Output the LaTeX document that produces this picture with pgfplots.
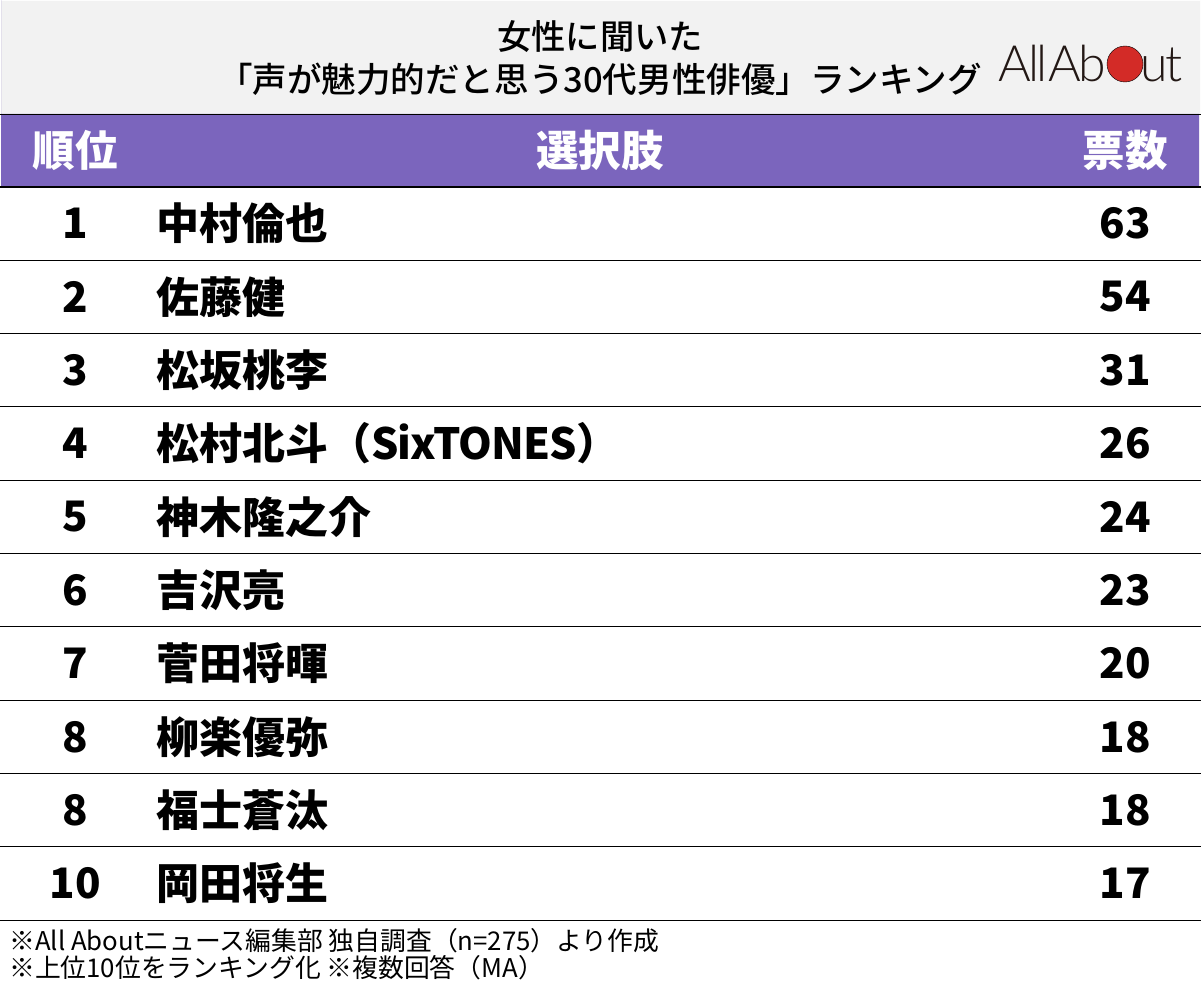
\documentclass[border=0pt]{standalone}
\usepackage{pgfplots}
\pgfplotsset{compat=1.18}
\usepackage{fontspec}
\setmainfont{Noto Sans CJK JP}
\newfontfamily\titlefont{Noto Sans CJK JP Medium}
\newfontfamily\logofont[LetterSpace=-5]{Lato Light}
\newcommand{\sx}{{\addfontfeature{LetterSpace=-2.5}SixTONES}}
\definecolor{hdr}{HTML}{7B65BD}
\definecolor{bandg}{HTML}{F2F2F2}
\definecolor{logored}{HTML}{D32B27}
\definecolor{logok}{HTML}{231815}
\begin{document}
\begin{tikzpicture}
\begin{axis}[
  scale only axis, width=1201pt, height=995pt,
  xmin=0, xmax=1201, ymin=0, ymax=995, y dir=reverse,
  hide axis, clip=true,
]
% page background
\addplot[draw=none, fill=white] coordinates {(0,0) (1201,0) (1201,995) (0,995)} \closedcycle;
% bands
\addplot[draw=none, fill=bandg] coordinates {(1,1) (1200,1) (1200,114) (1,114)} \closedcycle;
\addplot[draw=none, fill=hdr] coordinates {(1,114) (1199,114) (1199,187) (1,187)} \closedcycle;
% rules
\addplot[black, line width=1pt] coordinates {(0,114.5) (1201,114.5)};
\addplot[black, line width=2.2pt] coordinates {(0,187) (1201,187)};
\pgfplotsinvokeforeach{260.5,333.5,480.5,553.5,626.5,700.5,773.5,846.5,920.5}{
  \addplot[black, line width=1pt] coordinates {(0,#1) (1201,#1)};
}
\addplot[black, line width=1.5pt] coordinates {(0,406.5) (1201,406.5)};
% ranks
\addplot[only marks, mark=none, nodes near coords, point meta=explicit symbolic,
  every node near coord/.append style={anchor=center, inner sep=0pt, text=black, font=\fontsize{42}{46}\selectfont\bfseries}]
  table[x=x, y=y, meta=t] {
x y t
75 223 1
75 297 2
75 370 3
75 443 4
75 517 5
75 590 6
75 663 7
75 737 8
75 810 8
75 883 10
};
% names
\addplot[only marks, mark=none, nodes near coords, point meta=explicit symbolic,
  every node near coord/.append style={anchor=west, inner sep=0pt, text=black, font=\fontsize{43}{46}\selectfont\bfseries}]
  table[x=x, y=y, meta=t] {
x y t
156 223 中村倫也
156 297 佐藤健
156 370 松坂桃李
156 443 松村北斗（\sx）
156 517 神木隆之介
156 590 吉沢亮
156 663 菅田将暉
156 737 柳楽優弥
156 810 福士蒼汰
156 883 岡田将生
};
% votes
\addplot[only marks, mark=none, nodes near coords, point meta=explicit symbolic,
  every node near coord/.append style={anchor=center, inner sep=0pt, text=black, font=\fontsize{42}{46}\selectfont\bfseries}]
  table[x=x, y=y, meta=t] {
x y t
1125 223 63
1125 297 54
1125 370 31
1125 443 26
1125 517 24
1125 590 23
1125 663 20
1125 737 18
1125 810 18
1125 883 17
};
% header
\node[anchor=center, inner sep=0pt, text=white, font=\fontsize{42.5}{46}\selectfont\bfseries] at (axis cs:75,150) {順位};
\node[anchor=center, inner sep=0pt, text=white, font=\fontsize{42.5}{46}\selectfont\bfseries] at (axis cs:600,150) {選択肢};
\node[anchor=center, inner sep=0pt, text=white, font=\fontsize{42.5}{46}\selectfont\bfseries] at (axis cs:1125,150) {票数};
% title
\node[anchor=center, inner sep=0pt, font=\fontsize{34.3}{38}\titlefont] at (axis cs:600,37) {女性に聞いた};
\node[anchor=center, inner sep=0pt, font=\fontsize{34.55}{38}\titlefont] at (axis cs:600,79) {「声が魅力的だと思う30代男性俳優」ランキング};
% footnotes
\node[anchor=west, inner sep=0pt, font=\fontsize{25.8}{28}\selectfont] at (axis cs:9,941) {※All Aboutニュース編集部 独自調査（n=275）より作成};
\node[anchor=west, inner sep=0pt, font=\fontsize{25.8}{28}\selectfont] at (axis cs:9,968) {※上位10位をランキング化 ※複数回答（MA）};
% logo
\node[anchor=base west, inner sep=0pt, text=logok, font=\fontsize{50}{54}\logofont] at (axis cs:998,82) {All};
\node[anchor=base west, inner sep=0pt, text=logok, font=\fontsize{50}{54}\logofont] at (axis cs:1048,82) {Ab};
\addplot[only marks, mark=*, mark size=18pt, mark options={draw=none, fill=logored}] coordinates {(1125,64)};
\node[anchor=base west, inner sep=0pt, text=logok, font=\fontsize{50}{54}\logofont] at (axis cs:1140,82) {u\kern-2.5pt t};
\end{axis}
\end{tikzpicture}
\end{document}
